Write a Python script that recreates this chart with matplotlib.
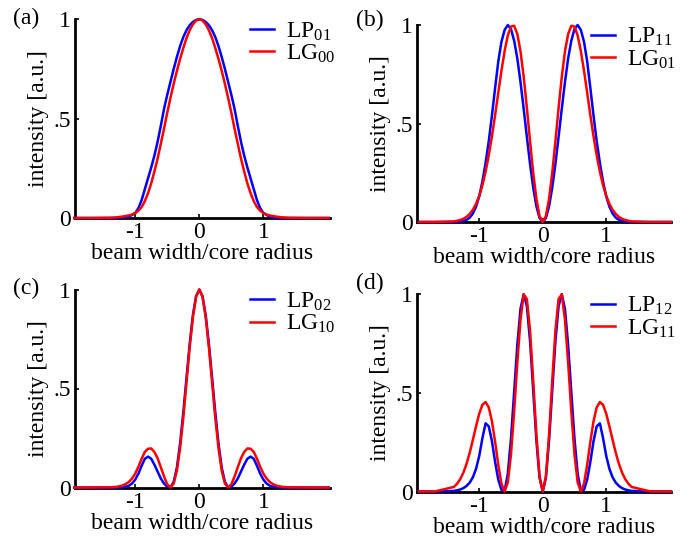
import numpy as np
import matplotlib.pyplot as plt

plt.rcParams['font.family'] = ['Liberation Serif', 'DejaVu Serif']
plt.rcParams['mathtext.fontset'] = 'custom'
plt.rcParams['mathtext.rm'] = 'Liberation Serif'
plt.rcParams['mathtext.it'] = 'Liberation Serif:italic'
plt.rcParams['font.size'] = 17

# radial position (beam width / core radius)
x = [-1.95, -1.7, -1.4, -1.35, -1.3, -1.25, -1.2, -1.15, -1.1, -1.05,
     -1.0, -0.95, -0.9, -0.85, -0.8, -0.75, -0.7, -0.65, -0.6, -0.55,
     -0.5, -0.45, -0.4, -0.35, -0.3, -0.25, -0.2, -0.15, -0.1, -0.05,
     0.0,
     0.05, 0.1, 0.15, 0.2, 0.25, 0.3, 0.35, 0.4, 0.45, 0.5,
     0.55, 0.6, 0.65, 0.7, 0.75, 0.8, 0.85, 0.9, 0.95, 1.0,
     1.05, 1.1, 1.15, 1.2, 1.25, 1.3, 1.35, 1.4, 1.7, 2.02]

# (a)
lp01 = [0, 0, 0, 0, 0, 0.001, 0.002, 0.004, 0.008, 0.015,
        0.025, 0.05, 0.09, 0.145, 0.2, 0.255, 0.315, 0.385, 0.465, 0.55,
        0.62, 0.685, 0.75, 0.81, 0.865, 0.91, 0.945, 0.97, 0.987, 0.997,
        1.0,
        0.997, 0.987, 0.97, 0.945, 0.91, 0.865, 0.81, 0.75, 0.685, 0.62,
        0.55, 0.465, 0.385, 0.315, 0.255, 0.2, 0.145, 0.09, 0.05, 0.025,
        0.015, 0.008, 0.004, 0.002, 0.001, 0, 0, 0, 0, 0]
lg00 = [0, 0, 0.001, 0.002, 0.003, 0.005, 0.007, 0.01, 0.013, 0.017,
        0.025, 0.037, 0.055, 0.085, 0.125, 0.175, 0.235, 0.3, 0.375, 0.45,
        0.53, 0.605, 0.675, 0.74, 0.8, 0.855, 0.905, 0.945, 0.975, 0.994,
        1.0,
        0.994, 0.975, 0.945, 0.905, 0.855, 0.8, 0.74, 0.675, 0.605, 0.53,
        0.45, 0.375, 0.3, 0.235, 0.175, 0.125, 0.085, 0.055, 0.037, 0.025,
        0.017, 0.013, 0.01, 0.007, 0.005, 0.003, 0.002, 0.001, 0, 0]

# (b)
lp11 = [0, 0, 0, 0.001, 0.002, 0.005, 0.011, 0.022, 0.043, 0.078,
        0.13, 0.205, 0.3, 0.41, 0.54, 0.68, 0.815, 0.915, 0.975, 1.0,
        0.979, 0.92, 0.83, 0.71, 0.575, 0.433, 0.295, 0.175, 0.08, 0.02,
        0,
        0.02, 0.08, 0.175, 0.295, 0.433, 0.575, 0.71, 0.83, 0.92, 0.979,
        1.0, 0.975, 0.915, 0.815, 0.68, 0.54, 0.41, 0.3, 0.205, 0.13,
        0.078, 0.043, 0.022, 0.011, 0.005, 0.002, 0.001, 0, 0, 0]
lg01 = [0, 0, 0.003, 0.006, 0.01, 0.016, 0.026, 0.041, 0.062, 0.092,
        0.133, 0.187, 0.255, 0.338, 0.435, 0.542, 0.656, 0.768, 0.868, 0.947,
        0.992, 0.996, 0.954, 0.866, 0.737, 0.58, 0.411, 0.25, 0.118, 0.03,
        0,
        0.03, 0.118, 0.25, 0.411, 0.58, 0.737, 0.866, 0.954, 0.996, 0.992,
        0.947, 0.868, 0.768, 0.656, 0.542, 0.435, 0.338, 0.255, 0.187, 0.133,
        0.092, 0.062, 0.041, 0.026, 0.016, 0.01, 0.006, 0.003, 0, 0]

# (c)
lp02 = [0, 0, 0, 0, 0, 0.001, 0.002, 0.004, 0.009, 0.02,
        0.04, 0.07, 0.11, 0.145, 0.156, 0.145, 0.115, 0.08, 0.045, 0.02,
        0.004, 0.001, 0.028, 0.1, 0.222, 0.378, 0.553, 0.725, 0.87, 0.966,
        1.0,
        0.966, 0.87, 0.725, 0.553, 0.378, 0.222, 0.1, 0.028, 0.001, 0.004,
        0.02, 0.045, 0.08, 0.115, 0.145, 0.156, 0.145, 0.11, 0.07, 0.04,
        0.02, 0.009, 0.004, 0.002, 0.001, 0, 0, 0, 0, 0]
lg10 = [0, 0, 0.001, 0.002, 0.003, 0.006, 0.01, 0.017, 0.028, 0.045,
        0.07, 0.105, 0.145, 0.18, 0.196, 0.197, 0.179, 0.147, 0.102, 0.055,
        0.016, 0, 0.02, 0.085, 0.198, 0.351, 0.529, 0.707, 0.86, 0.964,
        1.0,
        0.964, 0.86, 0.707, 0.529, 0.351, 0.198, 0.085, 0.02, 0, 0.016,
        0.055, 0.102, 0.147, 0.179, 0.197, 0.196, 0.18, 0.145, 0.105, 0.07,
        0.045, 0.028, 0.017, 0.01, 0.006, 0.003, 0.002, 0.001, 0, 0]

# (d)
lp12 = [0, 0, 0.003, 0.006, 0.01, 0.017, 0.028, 0.045, 0.072, 0.115,
        0.18, 0.27, 0.345, 0.33, 0.255, 0.15, 0.06, 0.008, 0.004, 0.09,
        0.268, 0.504, 0.743, 0.925, 0.999, 0.939, 0.762, 0.512, 0.258, 0.069,
        0,
        0.069, 0.258, 0.512, 0.762, 0.939, 0.999, 0.925, 0.743, 0.504, 0.268,
        0.09, 0.004, 0.008, 0.06, 0.15, 0.255, 0.33, 0.345, 0.27, 0.18,
        0.115, 0.072, 0.045, 0.028, 0.017, 0.01, 0.006, 0.003, 0, 0]
lg11 = [0, 0, 0.023, 0.039, 0.062, 0.095, 0.14, 0.196, 0.262, 0.33,
        0.394, 0.439, 0.453, 0.426, 0.356, 0.252, 0.135, 0.039, 0, 0.046,
        0.188, 0.406, 0.654, 0.87, 0.998, 0.975, 0.815, 0.562, 0.288, 0.078,
        0,
        0.078, 0.288, 0.562, 0.815, 0.975, 0.998, 0.87, 0.654, 0.406, 0.188,
        0.046, 0, 0.039, 0.135, 0.252, 0.356, 0.426, 0.453, 0.439, 0.394,
        0.33, 0.262, 0.196, 0.14, 0.095, 0.062, 0.039, 0.023, 0, 0]

panel_tags = ['(a)', '(b)', '(c)', '(d)']
lp_labels = ['LP$_{01}$', 'LP$_{11}$', 'LP$_{02}$', 'LP$_{12}$']
lg_labels = ['LG$_{00}$', 'LG$_{01}$', 'LG$_{10}$', 'LG$_{11}$']
lp_data = [lp01, lp11, lp02, lp12]
lg_data = [lg00, lg01, lg10, lg11]

W, H = 692, 542
# axes boxes in pixels: left, right, top, bottom
boxes = [(75, 330, 19.3, 218), (417, 671, 25, 222),
         (75, 330, 289.5, 487.5), (417, 671, 294, 491.5)]
xlims = [(-1.94, 2.04), (-1.98, 2.02), (-1.94, 2.04), (-1.98, 2.02)]
tag_pos = [(13, 8), (356, 10), (13, 278), (356, 273)]

fig = plt.figure(figsize=(W / 100, H / 100), dpi=100)

for i in range(4):
    l, r, t, b = boxes[i]
    ax = fig.add_axes([l / W, 1 - b / H, (r - l) / W, (b - t) / H])
    ax.plot(x, lp_data[i], color='#0000ff', lw=1.8, clip_on=False, zorder=3,
            label=lp_labels[i])
    ax.plot(x, lg_data[i], color='#ff0000', lw=1.8, clip_on=False, zorder=3,
            label=lg_labels[i])
    ax.set_xlim(xlims[i])
    ax.set_ylim(0, 1)
    for s in ['top', 'right']:
        ax.spines[s].set_visible(False)
    for s in ['left', 'bottom']:
        ax.spines[s].set_linewidth(2)
    ax.set_xticks([-1, 0, 1])
    ax.set_xticklabels(['-1', '0', '1'])
    ax.set_yticks([0, 0.5, 1])
    ax.set_yticklabels(['0', '.5', '1'])
    ax.tick_params(direction='in', length=3, width=1.2, pad=3)
    ax.set_xlabel('beam width/core radius', labelpad=0)
    ax.set_ylabel('intensity [a.u.]', labelpad=3)
    ax.legend(loc='upper right', bbox_to_anchor=(1.02, 0.995), frameon=False,
              handlelength=1.0, handletextpad=0.5, labelspacing=0.0,
              borderpad=0, borderaxespad=0)
    tx, ty = tag_pos[i]
    fig.text(tx / W, 1 - ty / H, panel_tags[i], ha='left', va='top')

fig.savefig('out.png', dpi=100)
